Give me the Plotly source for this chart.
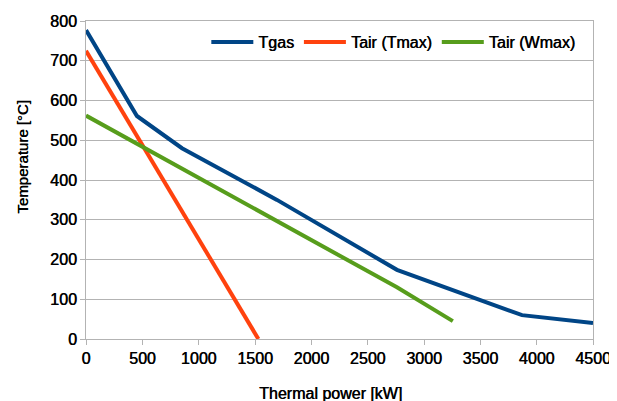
import plotly.graph_objects as go

tgas_x = [0, 452, 852, 1695, 2760, 3870, 4500]
tgas_y = [777, 561, 480, 350, 174, 60, 40]
tmax_x = [0, 1530]
tmax_y = [725, 0]
wmax_x = [0, 2760, 3256]
wmax_y = [562, 130, 45]

x_ticks = [0, 500, 1000, 1500, 2000, 2500, 3000, 3500, 4000, 4500]
y_ticks = [0, 100, 200, 300, 400, 500, 600, 700, 800]

x_title = "Thermal power [kW]"
y_title = "Temperature [°C]"

font = dict(family="Liberation Sans, Arial, sans-serif", size=16, color="#000000",
            shadow="0.5px 0 0 #000")
font_y = dict(font, size=15)

fig = go.Figure()
fig.add_trace(go.Scatter(x=tgas_x, y=tgas_y, mode="lines", name="Tgas",
                         line=dict(color="#004586", width=4)))
fig.add_trace(go.Scatter(x=tmax_x, y=tmax_y, mode="lines", name="Tair (Tmax)",
                         line=dict(color="#ff420e", width=4)))
fig.add_trace(go.Scatter(x=wmax_x, y=wmax_y, mode="lines", name="Tair (Wmax)",
                         line=dict(color="#579d1c", width=4)))

axis_common = dict(gridcolor="#b3b3b3", gridwidth=1,
                   showline=True, linecolor="#b3b3b3", linewidth=1, mirror=True,
                   ticks="outside", ticklen=5, tickcolor="#b3b3b3",
                   zeroline=False, tickfont=font, automargin=False)

fig.update_xaxes(range=[0, 4500], tickvals=x_ticks, showgrid=False, **axis_common)
fig.update_yaxes(range=[0, 800], tickvals=y_ticks, showgrid=True, **axis_common)

fig.add_annotation(text=x_title, xref="paper", yref="paper", x=0.483, y=-0.17,
                   xanchor="center", yanchor="middle", showarrow=False, font=font)
fig.add_annotation(text=y_title, xref="paper", yref="paper", x=-0.127, y=0.572,
                   xanchor="center", yanchor="middle", showarrow=False, font=font_y,
                   textangle=-90)

# page body has an 8px default margin, so the figure is sized to fit the window
fig.update_layout(
    width=609, height=393,
    margin=dict(l=78, r=24, t=13, b=62, autoexpand=False),
    paper_bgcolor="white", plot_bgcolor="white",
    font=font,
    showlegend=True,
    legend=dict(orientation="h", x=0.975, xanchor="right", y=0.934, yanchor="middle",
                bgcolor="rgba(255,255,255,0)", font=font, itemwidth=42),
)

fig.write_html("out.html")
